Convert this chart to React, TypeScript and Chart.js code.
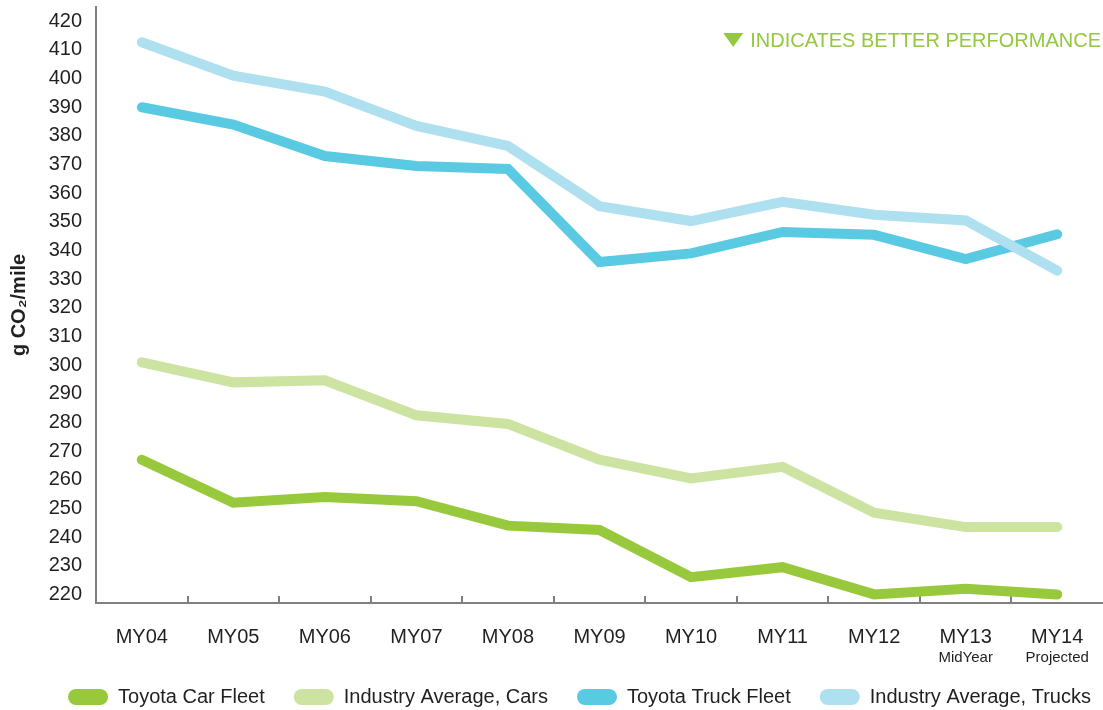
import React, { useEffect, useRef } from 'react';
import { Chart, registerables } from 'chart.js';

Chart.register(...registerables);

const categories = ['MY04', 'MY05', 'MY06', 'MY07', 'MY08', 'MY09', 'MY10', 'MY11', 'MY12', 'MY13', 'MY14'];
const subLabels = ['', '', '', '', '', '', '', '', '', 'MidYear', 'Projected'];
const yTicks = [220, 230, 240, 250, 260, 270, 280, 290, 300, 310, 320, 330, 340, 350, 360, 370, 380, 390, 400, 410, 420];

const toyotaCar = [267, 252, 254, 252.5, 244, 242.5, 226, 229.5, 220, 222, 220];
const industryCars = [301, 294, 294.7, 282.5, 279.5, 267, 260.5, 264.5, 248.5, 243.5, 243.5];
const toyotaTruck = [390, 384, 373, 369.5, 368.5, 336, 339, 346.5, 345.5, 337, 345.7];
const industryTrucks = [412.7, 401, 395.5, 383.5, 376.5, 355.5, 350.3, 357, 352.5, 350.5, 333];

const seriesNames = ['Toyota Car Fleet', 'Industry Average, Cars', 'Toyota Truck Fleet', 'Industry Average, Trucks'];
const seriesColors = ['#98c93c', '#cde3a2', '#5acae3', '#afe0ef'];
const seriesOrder = [3, 2, 1, 0];

const yTitle = 'g CO₂/mile';
const note = 'INDICATES BETTER PERFORMANCE';

const FONT = '"Liberation Sans", Arial, Helvetica, sans-serif';
const TEXT = '#231f20';
const AXIS = '#808080';
const NOTE_GREEN = '#93c840';

const extras = {
  id: 'extras',
  afterLayout(chart: any) {
    const lg = chart.legend;
    if (lg) {
      lg.left += 28;
      lg.right += 28;
    }
  },
  beforeDatasetsDraw(chart: any) {
    const { ctx, chartArea } = chart;
    const x = chart.scales.x;
    ctx.save();
    ctx.strokeStyle = AXIS;
    ctx.lineWidth = 2;
    for (let i = 0; i < categories.length - 1; i++) {
      const px = Math.round((x.getPixelForValue(i) + x.getPixelForValue(i + 1)) / 2);
      ctx.beginPath();
      ctx.moveTo(px, chartArea.bottom);
      ctx.lineTo(px, chartArea.bottom - 7);
      ctx.stroke();
    }
    ctx.restore();
  },
  afterDraw(chart: any) {
    const { ctx, chartArea } = chart;
    const x = chart.scales.x;
    ctx.save();
    ctx.fillStyle = TEXT;
    ctx.font = `15px ${FONT}`;
    ctx.textAlign = 'center';
    ctx.textBaseline = 'middle';
    subLabels.forEach((s, i) => {
      if (s) ctx.fillText(s, x.getPixelForValue(i), chartArea.bottom + 55);
    });
    ctx.font = `20px ${FONT}`;
    ctx.textAlign = 'right';
    ctx.fillStyle = NOTE_GREEN;
    const right = chart.width - 2;
    ctx.fillText(note, right, 41);
    const w = ctx.measureText(note).width;
    const tr = right - w - 7;
    ctx.beginPath();
    ctx.moveTo(tr - 20, 33);
    ctx.lineTo(tr, 33);
    ctx.lineTo(tr - 10, 47);
    ctx.closePath();
    ctx.fill();
    ctx.restore();
  },
};

export default function App() {
  const ref = useRef<HTMLCanvasElement | null>(null);

  useEffect(() => {
    document.body.style.margin = '0';
    const canvas = ref.current;
    if (!canvas) return;
    const values = [toyotaCar, industryCars, toyotaTruck, industryTrucks];
    const chart = new Chart(canvas, {
      type: 'line',
      data: {
        labels: categories,
        datasets: values.map((v, i) => ({
          label: seriesNames[i],
          data: v,
          borderColor: seriesColors[i],
          backgroundColor: seriesColors[i],
          borderWidth: 10,
          pointRadius: 0,
          pointHoverRadius: 0,
          tension: 0,
          fill: false,
          borderCapStyle: 'round',
          borderJoinStyle: 'miter',
          order: seriesOrder[i],
          clip: false,
        })),
      },
      options: {
        responsive: false,
        animation: false,
        devicePixelRatio: 1,
        events: [],
        layout: { padding: { top: 7, left: 0, right: 0, bottom: 0 } },
        plugins: {
          tooltip: { enabled: false },
          title: { display: false },
          legend: {
            display: true,
            position: 'bottom',
            maxHeight: 52,
            labels: {
              boxWidth: 40,
              boxHeight: 16,
              padding: 29,
              useBorderRadius: true,
              borderRadius: 8,
              color: TEXT,
              font: { size: 20, family: FONT },
              generateLabels: (c: any) =>
                c.data.datasets.map((ds: any, i: number) => ({
                  text: ds.label,
                  fillStyle: ds.borderColor,
                  strokeStyle: ds.borderColor,
                  lineWidth: 0,
                  hidden: false,
                  datasetIndex: i,
                  borderRadius: 8,
                  fontColor: TEXT,
                })),
            },
          },
        },
        scales: {
          x: {
            type: 'category',
            offset: true,
            grid: { display: false, drawTicks: false, offset: true },
            border: { display: true, color: AXIS, width: 2 },
            ticks: {
              color: TEXT,
              font: { size: 20, family: FONT },
              padding: 22,
              maxRotation: 0,
              autoSkip: false,
            },
            afterFit: (s: any) => {
              s.height = 55;
              s.paddingLeft = 0;
              s.paddingRight = 0;
            },
          },
          y: {
            type: 'linear',
            min: 217,
            max: 425,
            grid: { display: false, drawTicks: false },
            border: { display: true, color: AXIS, width: 2 },
            ticks: {
              color: TEXT,
              font: { size: 20, family: FONT },
              padding: 14,
            },
            afterBuildTicks: (s: any) => {
              s.ticks = yTicks.map((v) => ({ value: v }));
            },
            afterFit: (s: any) => {
              s.width = 96;
              s.paddingTop = 0;
              s.paddingBottom = 0;
            },
            title: {
              display: true,
              text: yTitle,
              color: TEXT,
              font: { size: 20, weight: 'bold', family: FONT },
              padding: { top: 7, bottom: 4 },
            },
          },
        },
      },
      plugins: [extras],
    } as any);
    return () => chart.destroy();
  }, []);

  return (
    <div style={{ width: 1103, height: 710 }}>
      <canvas ref={ref} width={1103} height={710} style={{ display: 'block' }} />
    </div>
  );
}
